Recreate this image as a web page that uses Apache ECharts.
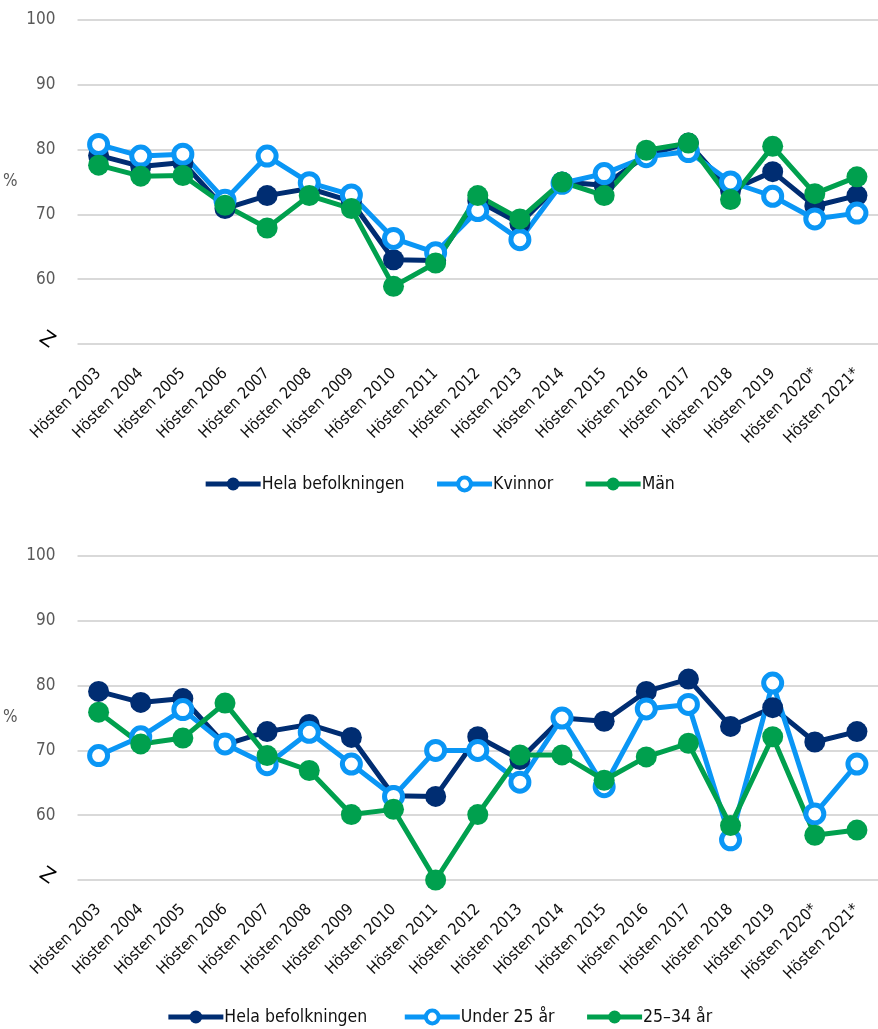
<!DOCTYPE html>
<html>
<head>
<meta charset="utf-8">
<script src="https://cdn.jsdelivr.net/npm/echarts@6/dist/echarts.min.js"></script>
<style>
    html, body { margin: 0; padding: 0; background: #fff; }
    #chart { width: 878px; height: 1029px; }
</style>
</head>
<body>
<div id="chart"></div>
<script>
// kategorier
const years = ["Hösten 2003", "Hösten 2004", "Hösten 2005", "Hösten 2006", "Hösten 2007",
    "Hösten 2008", "Hösten 2009", "Hösten 2010", "Hösten 2011", "Hösten 2012", "Hösten 2013",
    "Hösten 2014", "Hösten 2015", "Hösten 2016", "Hösten 2017", "Hösten 2018", "Hösten 2019",
    "Hösten 2020*", "Hösten 2021*"];

// övre diagrammet
const hela = [79.1, 77.4, 78.0, 70.9, 72.9, 74.0, 72.0, 63.0, 62.9, 72.1, 68.6, 75.0, 74.5, 79.1, 81.0, 73.7, 76.6, 71.3, 72.9];
const kvinnor = [80.8, 79.0, 79.3, 72.2, 79.0, 74.9, 73.0, 66.3, 64.1, 70.6, 66.1, 74.8, 76.3, 78.9, 79.7, 75.0, 72.8, 69.3, 70.2];
const man = [77.6, 75.9, 76.0, 71.4, 67.9, 72.9, 70.9, 58.9, 62.5, 72.9, 69.3, 75.0, 72.9, 79.9, 81.0, 72.3, 80.5, 73.2, 75.8];

// nedre diagrammet
const under25 = [69.2, 72.1, 76.3, 71.0, 67.8, 72.8, 67.9, 62.9, 70.0, 70.0, 65.1, 75.0, 64.4, 76.4, 77.1, 56.2, 80.4, 60.2, 67.9];
const ar2534 = [75.9, 71.0, 71.9, 77.3, 69.2, 66.9, 60.1, 60.9, 50.0, 60.1, 69.3, 69.3, 65.4, 69.0, 71.1, 58.4, 72.1, 56.9, 57.7];

const yTicks = [50, 60, 70, 80, 90, 100];

const NAVY = "#002d72";
const BLUE = "#0a96f5";
const GREEN = "#00a04e";
const FONT = "'DejaVu Sans Condensed', 'Liberation Sans Narrow', sans-serif";

let myChart = echarts.init(document.getElementById("chart"));

function yAxes(gridIndex) {
    return [
        {
            type: "value",
            gridIndex: gridIndex,
            min: yTicks[0],
            max: yTicks[yTicks.length - 1],
            interval: 10,
            name: "%",
            nameLocation: "middle",
            nameRotate: 0,
            nameGap: 60,
            nameTextStyle: { color: "#595959", fontSize: 17, fontFamily: FONT },
            axisLine: { show: false },
            axisTick: { show: false },
            axisLabel: {
                color: "#595959",
                fontSize: 17,
                fontFamily: FONT,
                margin: 22,
                formatter: function (v) {
                    return v === yTicks[0] ? "" : String(v);
                },
            },
            splitLine: { lineStyle: { color: "#d9d9d9", width: 2 } },
        },
        {
            // brytsymbol på axeln
            type: "value",
            gridIndex: gridIndex,
            position: "left",
            min: yTicks[0],
            max: yTicks[yTicks.length - 1],
            interval: 10,
            axisLine: { show: false },
            axisTick: { show: false },
            splitLine: { show: false },
            axisLabel: {
                color: "#000",
                fontSize: 20,
                fontFamily: "'DejaVu Sans', sans-serif",
                rotate: -35,
                margin: 25,
                formatter: function (v) {
                    return v === yTicks[0] ? "Z" : "";
                },
            },
        },
    ];
}

function xAxis(gridIndex) {
    return {
        type: "category",
        gridIndex: gridIndex,
        data: years,
        boundaryGap: true,
        axisLine: { show: false },
        axisTick: { show: false },
        axisLabel: {
            interval: 0,
            rotate: 45,
            color: "#111",
            fontSize: 16,
            fontFamily: FONT,
            margin: 27,
        },
    };
}

function lineSeries(name, data, color, hollow, xi, yi) {
    return {
        name: name,
        type: "line",
        xAxisIndex: xi,
        yAxisIndex: yi,
        data: data,
        symbol: "circle",
        symbolSize: hollow ? 18 : 21,
        showAllSymbol: true,
        lineStyle: { color: color, width: 5 },
        itemStyle: hollow
            ? { color: "#fff", borderColor: color, borderWidth: 5 }
            : { color: color, borderWidth: 0 },
        emphasis: { disabled: true },
    };
}

let legendBase = {
    itemWidth: 55,
    itemHeight: 16,
    itemGap: 30,
    lineStyle: { width: 5 },
    itemStyle: { borderWidth: 4 },
    textStyle: { color: "#111", fontSize: 17.5, fontFamily: FONT, padding: [0, 0, 0, -4] },
};

let option = {
    animation: false,
    backgroundColor: "#fff",
    grid: [
        { left: 75, width: 811, top: 20, height: 324 },
        { left: 75, width: 811, top: 556, height: 324 },
    ],
    xAxis: [xAxis(0), xAxis(1)],
    yAxis: yAxes(0).concat(yAxes(1)),
    legend: [
        Object.assign({}, legendBase, {
            top: 470,
            left: "center",
            data: ["Hela befolkningen", "Kvinnor", "Män"],
        }),
        Object.assign({}, legendBase, {
            top: 1003,
            left: "center",
            data: ["Hela befolkningen ", "Under 25 år", "25–34 år"],
        }),
    ],
    series: [
        lineSeries("Hela befolkningen", hela, NAVY, false, 0, 0),
        lineSeries("Kvinnor", kvinnor, BLUE, true, 0, 0),
        lineSeries("Män", man, GREEN, false, 0, 0),
        lineSeries("Hela befolkningen ", hela, NAVY, false, 1, 2),
        lineSeries("Under 25 år", under25, BLUE, true, 1, 2),
        lineSeries("25–34 år", ar2534, GREEN, false, 1, 2),
    ],
};

myChart.setOption(option);
</script>
</body>
</html>
